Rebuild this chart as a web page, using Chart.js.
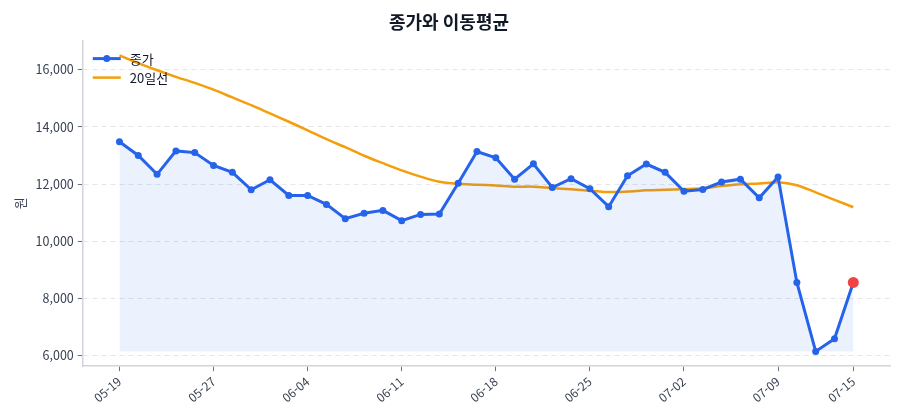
<!DOCTYPE html>
<html lang="ko">
<head>
<meta charset="utf-8">
<script src="https://cdn.jsdelivr.net/npm/chart.js@4/dist/chart.umd.min.js"></script>
<style>
  html, body { margin: 0; padding: 0; background: #fff; }
  #wrap { width: 900px; height: 420px; }
</style>
</head>
<body>
<div id="wrap"><canvas id="priceChart"></canvas></div>
<script>
// 거래일
const dates = [
  "05-19", "05-20", "05-21", "05-22", "05-23", "05-27", "05-28", "05-29", "05-30", "06-02",
  "06-04", "06-05", "06-06", "06-09", "06-10", "06-11", "06-12", "06-13", "06-16", "06-17",
  "06-18", "06-19", "06-20", "06-23", "06-24", "06-25", "06-26", "06-27", "06-30", "07-01",
  "07-02", "07-03", "07-04", "07-07", "07-08", "07-09", "07-10", "07-11", "07-14", "07-15"
];

// 종가
const closes = [
  13480, 13000, 12340, 13160, 13100, 12650, 12410, 11800, 12150, 11600,
  11600, 11290, 10790, 10980, 11080, 10720, 10940, 10950, 12030, 13140,
  12920, 12170, 12710, 11880, 12190, 11840, 11210, 12290, 12700, 12410,
  11750, 11810, 12070, 12170, 11520, 12250, 8560, 6150, 6590, 8560
];

// 20일 이동평균
const ma20 = [
  16500, 16230, 15980, 15750, 15540, 15300, 15030, 14760, 14470, 14180,
  13880, 13570, 13290, 12990, 12730, 12480, 12260, 12080, 12010, 11980,
  11950, 11910, 11910, 11860, 11820, 11770, 11720, 11740, 11780, 11800,
  11820, 11850, 11930, 11990, 12020, 12060, 11960, 11710, 11450, 11190
];

const xTickIdx = [0, 5, 10, 15, 20, 25, 30, 35, 39];
const yTicks = [6000, 8000, 10000, 12000, 14000, 16000];

const FONT = "'Noto Sans CJK KR', 'Noto Sans', sans-serif";
const BLUE = "#2563eb";
const ORANGE = "#f59e0b";
const RED = "#ef4444";
const lastIdx = closes.length - 1;
const fillBase = Math.min(...closes);

// 범례 (선 + 마커 형태)
const lineLegend = {
  id: "lineLegend",
  afterDraw(chart) {
    const { ctx, chartArea } = chart;
    const x0 = chartArea.left + 10;
    const items = [
      { text: "종가", color: BLUE, width: 3, marker: true },
      { text: "20일선", color: ORANGE, width: 2.5, marker: false }
    ];
    ctx.save();
    items.forEach((it, i) => {
      const y = chartArea.top + 18 + i * 19;
      ctx.strokeStyle = it.color;
      ctx.lineWidth = it.width;
      ctx.beginPath();
      ctx.moveTo(x0, y);
      ctx.lineTo(x0 + 28, y);
      ctx.stroke();
      if (it.marker) {
        ctx.fillStyle = it.color;
        ctx.beginPath();
        ctx.arc(x0 + 14, y, 3.5, 0, Math.PI * 2);
        ctx.fill();
      }
      ctx.fillStyle = "#111827";
      ctx.font = "13px " + FONT;
      ctx.textBaseline = "middle";
      ctx.fillText(it.text, x0 + 37, y);
    });
    ctx.restore();
  }
};

new Chart(document.getElementById("priceChart"), {
  type: "line",
  data: {
    datasets: [
      {
        label: "종가",
        data: closes.map((v, i) => ({ x: i, y: v })),
        borderColor: BLUE,
        borderWidth: 3,
        backgroundColor: "rgba(37, 99, 235, 0.09)",
        fill: { value: fillBase },
        pointRadius: ctx => ctx.dataIndex === lastIdx ? 5.5 : 3.5,
        pointBackgroundColor: ctx => ctx.dataIndex === lastIdx ? RED : BLUE,
        pointBorderColor: ctx => ctx.dataIndex === lastIdx ? RED : BLUE,
        pointBorderWidth: 0,
        tension: 0,
        order: 1
      },
      {
        label: "20일선",
        data: ma20.map((v, i) => ({ x: i, y: v })),
        borderColor: ORANGE,
        borderWidth: 2.5,
        pointRadius: 0,
        fill: false,
        tension: 0.3,
        order: 2
      }
    ]
  },
  options: {
    responsive: true,
    maintainAspectRatio: false,
    animation: false,
    layout: { padding: { top: 9, left: 8, right: 10, bottom: 12 } },
    plugins: {
      legend: { display: false },
      tooltip: { enabled: false },
      title: {
        display: true,
        text: "종가와 이동평균",
        color: "#111827",
        font: { family: FONT, size: 18, weight: "bold" },
        padding: { top: 2, bottom: 8 }
      }
    },
    scales: {
      x: {
        type: "linear",
        min: -1.95,
        max: lastIdx + 1.95,
        afterBuildTicks: axis => { axis.ticks = xTickIdx.map(v => ({ value: v })); },
        ticks: {
          callback: v => dates[v],
          minRotation: 40,
          maxRotation: 40,
          color: "#374151",
          font: { family: FONT, size: 12 },
          padding: 3
        },
        grid: { drawOnChartArea: false, tickLength: 5, tickColor: "#6b7280" },
        border: { color: "#d1d5db", width: 1.5 }
      },
      y: {
        min: 5633,
        max: 17017,
        afterBuildTicks: axis => { axis.ticks = yTicks.map(v => ({ value: v })); },
        ticks: {
          callback: v => v.toLocaleString("en-US"),
          color: "#374151",
          font: { family: FONT, size: 12.5 },
          padding: 4
        },
        grid: { color: "#e5e7eb", tickLength: 5, tickColor: "#6b7280", tickBorderDash: [] },
        border: { color: "#d1d5db", width: 1.5, dash: [5, 4] },
        title: {
          display: true,
          text: "원",
          color: "#374151",
          font: { family: FONT, size: 13 },
          padding: { bottom: 4 }
        }
      }
    }
  },
  plugins: [lineLegend]
});
</script>
</body>
</html>
